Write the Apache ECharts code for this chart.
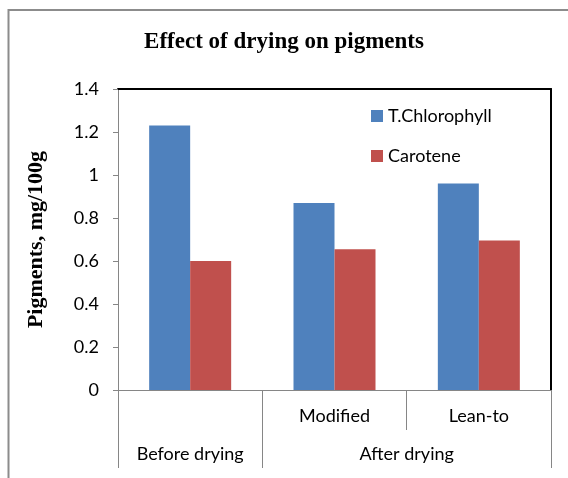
<!DOCTYPE html>
<html>
<head>
<meta charset="utf-8">
<script src="https://cdn.jsdelivr.net/npm/echarts@6/dist/echarts.min.js"></script>
<style>
  html, body { margin: 0; padding: 0; background: #fff; }
  #chart { width: 568px; height: 478px; }
</style>
</head>
<body>
<div id="chart"></div>
<script>
  // chart data
  const categories = ['Before drying', 'Modified', 'Lean-to'];
  const subLabels = ['', 'Modified', 'Lean-to'];
  const groupNames = ['Before drying', 'After drying'];
  const groupSizes = [1, 2];
  const chlorophyll = [1.23, 0.87, 0.96];
  const carotene = [0.60, 0.655, 0.695];

  // group boundaries and centres on a 0..n scale
  const bounds = [0];
  groupSizes.forEach(s => bounds.push(bounds[bounds.length - 1] + s));
  const centres = groupSizes.map((s, i) => bounds[i] + s / 2);

  const labelFont = 'Lato, "Open Sans", sans-serif';
  const gray = '#868686';

  const myChart = echarts.init(document.getElementById('chart'));
  myChart.setOption({
    animation: false,
    graphic: [{
      type: 'rect',
      shape: {x: 8.5, y: 10, width: 620, height: 520},
      style: {fill: 'none', stroke: '#8c8c8c', lineWidth: 2},
      silent: true
    }],
    title: {
      text: 'Effect of drying on pigments',
      left: 'center',
      top: 31,
      padding: 0,
      textStyle: {fontFamily: '"Liberation Serif", serif', fontWeight: 'bold', fontSize: 23, color: '#000'}
    },
    legend: {
      orient: 'vertical',
      left: 371,
      top: 107,
      padding: 0,
      itemWidth: 12,
      itemHeight: 12,
      itemGap: 22,
      icon: 'rect',
      data: ['T.Chlorophyll', 'Carotene'],
      textStyle: {fontFamily: labelFont, fontSize: 18, color: '#000'}
    },
    grid: {left: 118, top: 89, right: 17, bottom: 88},
    xAxis: [
      {
        type: 'category',
        position: 'bottom',
        data: categories,
        axisLine: {onZero: false, lineStyle: {color: gray, width: 1}},
        axisTick: {show: true, interval: 0, length: 40, lineStyle: {color: gray}},
        axisLabel: {
          interval: 0, margin: 17,
          formatter: (v, i) => subLabels[i],
          fontFamily: labelFont, fontSize: 18, color: '#000'
        }
      },
      {
        type: 'value',
        position: 'bottom',
        min: 0, max: bounds[bounds.length - 1],
        splitLine: {show: false},
        axisLine: {show: false, onZero: false},
        axisTick: {show: true, length: 78, customValues: bounds, lineStyle: {color: gray}},
        axisLabel: {
          margin: 55,
          customValues: centres,
          formatter: v => groupNames[centres.indexOf(v)],
          fontFamily: labelFont, fontSize: 18, color: '#000'
        }
      },
      {
        type: 'value',
        position: 'top',
        min: 0, max: 1,
        splitLine: {show: false},
        axisTick: {show: false},
        axisLabel: {show: false},
        axisLine: {show: true, onZero: false, lineStyle: {color: '#000', width: 2}}
      }
    ],
    yAxis: [
      {
        type: 'value',
        min: 0, max: 1.4, interval: 0.2,
        name: 'Pigments, mg/100g',
        nameLocation: 'middle',
        nameGap: 71,
        nameTextStyle: {fontFamily: '"Liberation Serif", serif', fontWeight: 'bold', fontSize: 22, color: '#000'},
        splitLine: {show: false},
        axisLine: {show: true, onZero: false, lineStyle: {color: gray}},
        axisTick: {show: true, length: 5, lineStyle: {color: gray}},
        axisLabel: {margin: 19, fontFamily: labelFont, fontSize: 18, color: '#000'}
      },
      {
        type: 'value',
        position: 'right',
        min: 0, max: 1,
        splitLine: {show: false},
        axisTick: {show: false},
        axisLabel: {show: false},
        axisLine: {show: true, onZero: false, lineStyle: {color: '#000', width: 2}}
      }
    ],
    series: [
      {
        name: 'T.Chlorophyll',
        type: 'bar',
        xAxisIndex: 0, yAxisIndex: 0,
        barWidth: 41,
        barGap: '0%',
        data: chlorophyll,
        itemStyle: {color: '#4F81BD'}
      },
      {
        name: 'Carotene',
        type: 'bar',
        xAxisIndex: 0, yAxisIndex: 0,
        barWidth: 41,
        barGap: '0%',
        data: carotene,
        itemStyle: {color: '#C0504D'}
      }
    ]
  });
</script>
</body>
</html>
